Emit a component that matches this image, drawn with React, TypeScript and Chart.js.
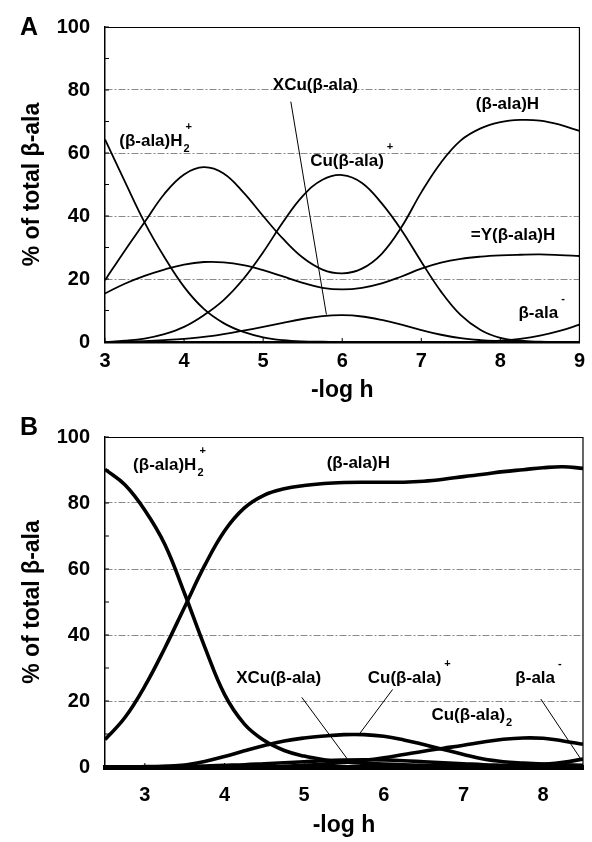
import React, { useEffect, useRef } from 'react';
import { Chart, registerables } from 'chart.js';

Chart.register(...registerables);

const FONT = "'Liberation Sans', Arial, Helvetica, sans-serif";

// ---------- Panel A data ----------
const phA = [3, 3.25, 3.5, 3.75, 4, 4.25, 4.5, 4.75, 5, 5.25, 5.5, 5.75, 6, 6.25, 6.5, 6.75, 7, 7.25, 7.5, 7.75, 8, 8.25, 8.5, 8.75, 9];
const alaH2A = [64.3, 51, 38, 27, 17.5, 10.5, 6, 3.2, 1.5, 0.6, 0.2, 0.1, 0, 0, 0, 0, 0, 0, 0, 0, 0, 0, 0, 0, 0];
const alaHA = [19.6, 29, 38, 47, 53.2, 55.5, 53.5, 47.5, 40, 32.8, 26.8, 23, 21.8, 23.3, 28, 36.5, 47.5, 57, 64, 67.8, 69.8, 70.5, 70.3, 69, 67];
const cuAlaA = [0, 0.4, 1.1, 2.5, 4.8, 8.5, 13.3, 20, 28.5, 38, 46.3, 51.5, 53, 50.5, 44, 35.5, 25.5, 16, 8.5, 3.8, 1.3, 0.4, 0.1, 0, 0];
const yAlaHA = [15.4, 18.5, 21, 23, 24.6, 25.4, 25.3, 24.4, 22.8, 20.8, 18.8, 17.2, 16.7, 17.2, 18.6, 20.8, 23.3, 25.2, 26.4, 27.1, 27.5, 27.7, 27.8, 27.6, 27.3];
const xCuAlaA = [0, 0.1, 0.3, 0.6, 1, 1.6, 2.5, 3.6, 4.8, 6.1, 7.3, 8.2, 8.5, 8.1, 7, 5.5, 3.8, 2.3, 1.2, 0.6, 0.3, 0.1, 0, 0, 0];
const alaMinusA = [0, 0, 0, 0, 0, 0, 0, 0, 0, 0, 0, 0, 0, 0, 0, 0, 0, 0, 0, 0.1, 0.4, 1, 2, 3.5, 5.5];
const leaderA_XCu = [{ x: 5.35, y: 76.3 }, { x: 5.8, y: 8.7 }];

// ---------- Panel B data ----------
const phB = [2.5, 2.75, 3, 3.25, 3.5, 3.75, 4, 4.25, 4.5, 4.75, 5, 5.25, 5.5, 5.75, 6, 6.25, 6.5, 6.75, 7, 7.25, 7.5, 7.75, 8, 8.25, 8.5];
const alaH2B = [90.2, 85.5, 77.8, 67.5, 52.5, 36.5, 22, 13, 8, 5, 3.3, 2.2, 1.5, 1.1, 0.9, 0.7, 0.5, 0.4, 0.3, 0.2, 0.2, 0.1, 0.1, 0.1, 0.1];
const alaHB = [8.3, 15, 24.5, 36, 48.5, 61, 71.5, 78.5, 82.4, 84.3, 85.3, 85.9, 86.2, 86.3, 86.3, 86.3, 86.6, 87.2, 88, 88.7, 89.5, 90.1, 90.7, 91, 90.5];
const cuAlaB = [0, 0, 0.1, 0.25, 0.6, 1.7, 3.2, 4.9, 6.5, 7.9, 8.8, 9.4, 9.8, 9.8, 9.3, 8.2, 6.8, 5.3, 3.8, 2.4, 1.6, 1.2, 0.9, 0.7, 0.5];
const cuAla2B = [0, 0, 0, 0, 0, 0, 0, 0, 0, 0.2, 0.5, 0.9, 1.4, 2, 2.8, 3.8, 4.8, 5.7, 6.6, 7.6, 8.4, 8.8, 8.7, 7.9, 6.9];
const xCuAlaB = [0, 0, 0.05, 0.1, 0.2, 0.3, 0.5, 0.7, 1, 1.3, 1.6, 1.9, 2.1, 2.2, 2.1, 1.9, 1.6, 1.3, 1, 0.7, 0.5, 0.3, 0.2, 0.1, 0.1];
const alaMinusB = [0, 0, 0, 0, 0, 0, 0, 0, 0, 0, 0, 0, 0, 0, 0, 0, 0, 0, 0, 0.1, 0.2, 0.4, 0.8, 1.4, 2.4];
const leaderB_XCu = [{ x: 4.97, y: 21.1 }, { x: 5.54, y: 2.5 }];
const leaderB_Cu = [{ x: 6.11, y: 23.5 }, { x: 5.69, y: 9.9 }];
const leaderB_Ala = [{ x: 7.97, y: 20.6 }, { x: 8.47, y: 2.5 }];

type Lab = { text: string; x: number; y: number; sub?: string; sup?: string };

const labelsA: Lab[] = [
  { text: '(β-ala)H', sub: '2', sup: '+', x: 3.58, y: 63.7 },
  { text: 'XCu(β-ala)', x: 5.66, y: 81.6 },
  { text: 'Cu(β-ala)', sup: '+', x: 6.06, y: 57.4 },
  { text: '(β-ala)H', x: 8.09, y: 75.4 },
  { text: '=Y(β-ala)H', x: 8.16, y: 33.8 },
  { text: 'β-ala', sup: '-', x: 8.48, y: 9.1 },
];

const labelsB: Lab[] = [
  { text: '(β-ala)H', sub: '2', sup: '+', x: 3.25, y: 91.5 },
  { text: '(β-ala)H', x: 5.68, y: 92 },
  { text: 'XCu(β-ala)', x: 4.68, y: 27 },
  { text: 'Cu(β-ala)', sup: '+', x: 6.26, y: 27 },
  { text: 'β-ala', sup: '-', x: 7.9, y: 27 },
  { text: 'Cu(β-ala)', sub: '2', x: 7.06, y: 15.7 },
];

const pts = (xs: number[], ys: number[]) => xs.map((x, i) => ({ x, y: ys[i] }));

const curve = (data: { x: number; y: number }[], w: number) => ({
  data,
  borderColor: '#000',
  borderWidth: w,
  pointRadius: 0,
  fill: false,
  tension: 0.4,
});

const leader = (data: { x: number; y: number }[]) => ({
  data,
  borderColor: '#000',
  borderWidth: 1,
  pointRadius: 0,
  fill: false,
  tension: 0,
});

const decorPlugin = {
  id: 'decor',
  afterDatasetsDraw(chart: any, _args: any, opts: any) {
    const { ctx, chartArea: a, scales } = chart;
    const xs = scales.x;
    const ys = scales.y;
    ctx.save();
    ctx.strokeStyle = '#000';
    ctx.lineWidth = 1.2;
    ctx.setLineDash([]);
    ctx.beginPath();
    ctx.moveTo(a.right, a.top);
    ctx.lineTo(a.right, a.bottom);
    ctx.stroke();
    ctx.lineWidth = 1;
    ctx.beginPath();
    const yt = ys.ticks.map((t: any) => t.value);
    const yAll: number[] = [];
    for (let i = 0; i < yt.length; i++) {
      yAll.push(yt[i]);
      if (i < yt.length - 1) yAll.push((yt[i] + yt[i + 1]) / 2);
    }
    yAll.forEach((v) => {
      const p = ys.getPixelForValue(v);
      ctx.moveTo(a.left, p);
      ctx.lineTo(a.left + 4, p);
    });
    xs.ticks.forEach((t: any) => {
      const p = xs.getPixelForValue(t.value);
      ctx.moveTo(p, a.bottom);
      ctx.lineTo(p, a.bottom - 4);
    });
    ctx.stroke();
    const labs: Lab[] = (opts && opts.labels) || [];
    ctx.fillStyle = '#000';
    ctx.textBaseline = 'middle';
    ctx.textAlign = 'left';
    labs.forEach((lab) => {
      const px = xs.getPixelForValue(lab.x);
      const py = ys.getPixelForValue(lab.y);
      ctx.font = `bold 17px ${FONT}`;
      const w = ctx.measureText(lab.text).width;
      const left = px - w / 2;
      ctx.fillText(lab.text, left, py);
      ctx.font = `bold 11px ${FONT}`;
      if (lab.sub) ctx.fillText(lab.sub, left + w + 1, py + 8);
      if (lab.sup) ctx.fillText(lab.sup, left + w + 3, py - 14);
    });
    ctx.restore();
  },
};

function makeOptions(cfg: {
  xmin: number;
  xmax: number;
  padTop: number;
  padRight: number;
  xHeight: number;
  tickPad: number;
  titlePadBottom: number;
  baseWidth: number;
  labels: Lab[];
}) {
  const tickFont = { family: FONT, size: 20, weight: 'bold' as const };
  const titleFont = { family: FONT, size: 23, weight: 'bold' as const };
  return {
    animation: false as const,
    responsive: false,
    events: [],
    layout: { padding: { top: cfg.padTop, right: cfg.padRight, left: 0, bottom: 0 } },
    plugins: {
      legend: { display: false },
      tooltip: { enabled: false },
      decor: { labels: cfg.labels },
    },
    scales: {
      x: {
        type: 'linear' as const,
        min: cfg.xmin,
        max: cfg.xmax,
        ticks: { stepSize: 1, includeBounds: false, padding: cfg.tickPad, font: tickFont, color: '#000' },
        afterBuildTicks(s: any) {
          const t: { value: number }[] = [];
          for (let v = Math.ceil(s.min); v <= Math.floor(s.max); v++) t.push({ value: v });
          s.ticks = t;
        },
        grid: { display: false, drawTicks: false },
        border: { display: true, color: '#000', width: cfg.baseWidth },
        title: { display: true, text: '-log h', font: titleFont, color: '#000', padding: { top: 0, bottom: cfg.titlePadBottom } },
        afterFit(s: any) {
          s.height = cfg.xHeight;
        },
      },
      y: {
        type: 'linear' as const,
        min: 0,
        max: 100,
        ticks: { stepSize: 20, padding: 15, font: tickFont, color: '#000' },
        grid: {
          drawTicks: false,
          lineWidth: 1,
          color: (c: any) => {
            const v = c.tick ? c.tick.value : -1;
            if (v === 0) return 'rgba(0,0,0,0)';
            if (v === 100) return '#000';
            return '#8a8a8a';
          },
        },
        border: {
          display: true,
          color: '#000',
          width: 1.5,
          dash: (c: any) => (c && c.tick && c.tick.value > 0 && c.tick.value < 100 ? [7, 2, 2, 2] : []),
        },
        title: { display: true, text: '% of total β-ala', font: titleFont, color: '#000', padding: { top: 19, bottom: 0 } },
        afterFit(s: any) {
          s.width = 105;
        },
      },
    },
  };
}

export default function App() {
  const refA = useRef<HTMLCanvasElement>(null);
  const refB = useRef<HTMLCanvasElement>(null);

  useEffect(() => {
    const wA = 1.8;
    const wB = 3.6;
    const chartA = new Chart(refA.current as HTMLCanvasElement, {
      type: 'line',
      data: {
        datasets: [
          curve(pts(phA, alaH2A), wA),
          curve(pts(phA, alaHA), wA),
          curve(pts(phA, cuAlaA), wA),
          curve(pts(phA, yAlaHA), wA),
          curve(pts(phA, xCuAlaA), wA),
          curve(pts(phA, alaMinusA), wA),
          leader(leaderA_XCu),
        ] as any,
      },
      options: makeOptions({
        xmin: 3,
        xmax: 9,
        padTop: 25,
        padRight: 9,
        xHeight: 68,
        tickPad: 7,
        titlePadBottom: 6,
        baseWidth: 2.5,
        labels: labelsA,
      }) as any,
      plugins: [decorPlugin],
    });
    const chartB = new Chart(refB.current as HTMLCanvasElement, {
      type: 'line',
      data: {
        datasets: [
          curve(pts(phB, alaH2B), wB),
          curve(pts(phB, alaHB), wB),
          curve(pts(phB, cuAlaB), wB),
          curve(pts(phB, cuAla2B), wB),
          curve(pts(phB, xCuAlaB), wB),
          curve(pts(phB, alaMinusB), wB),
          leader(leaderB_XCu),
          leader(leaderB_Cu),
          leader(leaderB_Ala),
        ] as any,
      },
      options: makeOptions({
        xmin: 2.5,
        xmax: 8.5,
        padTop: 16,
        padRight: 9,
        xHeight: 75,
        tickPad: 16,
        titlePadBottom: 3,
        baseWidth: 5,
        labels: labelsB,
      }) as any,
      plugins: [decorPlugin],
    });
    return () => {
      chartA.destroy();
      chartB.destroy();
    };
  }, []);

  const letter = { position: 'absolute' as const, left: 20, font: `bold 25px ${FONT}`, color: '#000', lineHeight: 'normal' };

  return (
    <div style={{ position: 'absolute', left: 0, top: 0, width: 592, height: 842, background: '#fff' }}>
      <canvas ref={refA} width={592} height={410} style={{ position: 'absolute', left: 0, top: 0 }} />
      <canvas ref={refB} width={592} height={432} style={{ position: 'absolute', left: 0, top: 410 }} />
      <div style={{ ...letter, top: 12 }}>A</div>
      <div style={{ ...letter, top: 412 }}>B</div>
    </div>
  );
}
